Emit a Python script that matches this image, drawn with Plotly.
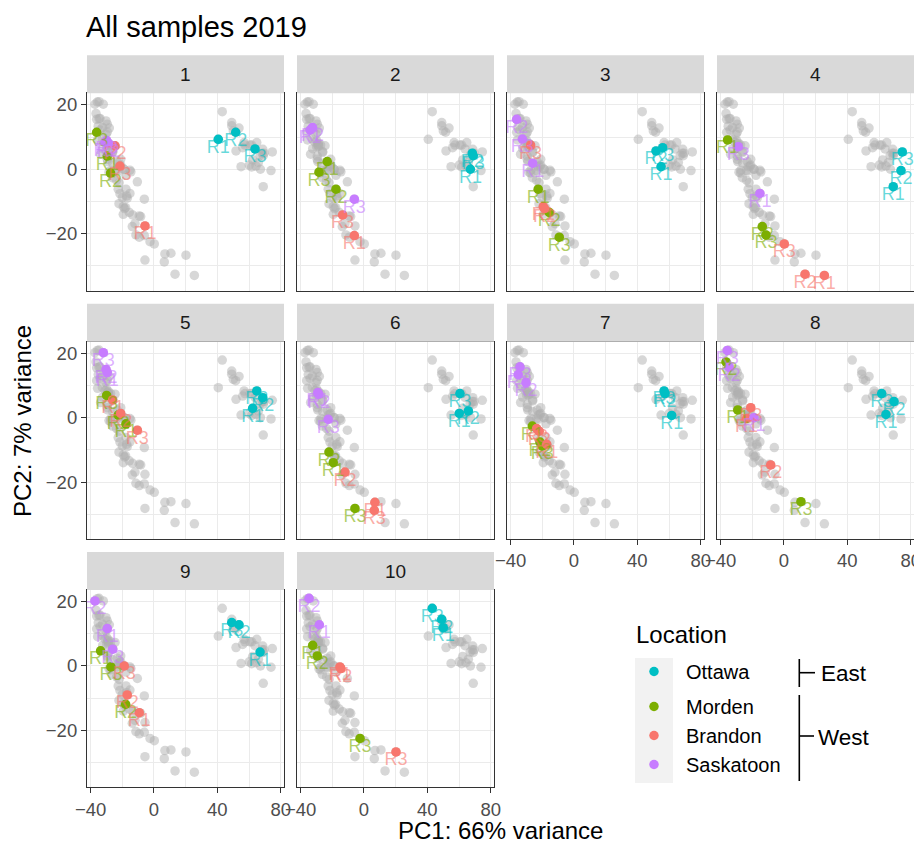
import plotly.graph_objects as go

# ---------------- data ----------------
PANELS = [1, 2, 3, 4, 5, 6, 7, 8, 9, 10]
LOCATIONS = ["Ottawa", "Morden", "Brandon", "Saskatoon"]
LOCATION_REGION = ["East", "West", "West", "West"]
REGIONS = ["East", "West"]
X_TICKS = [-40, 0, 40, 80]
Y_TICKS = [-20, 0, 20]

ottawa_panel = [1, 1, 1, 2, 2, 2, 3, 3, 3, 4, 4, 4, 5, 5, 5, 6, 6, 6, 7, 7, 7, 8, 8, 8, 9, 9, 9, 10, 10, 10]
ottawa_rep = ["R1", "R2", "R3"] * 10
ottawa_pc1 = [40.6, 51.6, 63.8, 67.2, 68.4, 69.0, 55.0, 51.8, 56.0, 69.0, 73.9, 74.7, 62.3, 68.7, 64.9,
              60.2, 65.9, 60.6, 61.7, 57.5, 56.9, 64.4, 69.5, 61.7, 67.0, 53.7, 49.1, 50.1, 49.1, 43.1]
ottawa_pc2 = [9.3, 11.5, 6.3, 0.0, 5.0, 4.2, 0.8, 5.7, 6.7, -5.4, -0.4, 5.4, 2.9, 6.2, 8.3,
              1.3, 2.1, 7.5, 0.7, 7.5, 8.3, 1.0, 5.0, 7.5, 4.3, 12.8, 13.5, 11.9, 14.5, 17.9]

morden_panel = [1, 1, 1, 2, 2, 2, 3, 3, 3, 4, 4, 4, 5, 5, 5, 6, 6, 6, 7, 7, 7, 8, 8, 8, 9, 9, 9, 10, 10, 10]
morden_rep = ["R1", "R2", "R3"] * 10
morden_pc1 = [-29.5, -27.4, -36.2, -23.2, -17.7, -28.4, -22.6, -15.6, -9.3, -35.6, -13.7, -11.4, -17.7, -22.6, -29.9,
              -19.4, -22.1, -5.7, -26.3, -21.5, -20.0, -29.2, -36.6, 10.7, -33.7, -17.9, -27.2, -32.4, -29.5, -2.5]
morden_pc2 = [4.1, -1.2, 11.5, 2.4, -6.2, -0.9, -6.2, -13.4, -21.1, 9.1, -17.8, -20.4, -1.9, 0.8, 6.9,
              -14.0, -10.7, -28.2, -2.6, -7.6, -8.8, 2.4, 17.3, -26.1, 4.7, -11.9, -0.3, 6.4, 3.1, -22.5]

brandon_panel = [1, 1, 1, 2, 2, 3, 3, 3, 4, 4, 4, 5, 5, 5, 6, 6, 6, 7, 7, 7, 8, 8, 8, 9, 9, 9, 10, 10, 10]
brandon_rep = ["R1", "R2", "R3", "R1", "R3", "R1", "R2", "R3", "R1", "R2", "R3", "R1", "R2", "R3",
               "R1", "R2", "R3", "R1", "R2", "R3", "R1", "R2", "R3", "R1", "R2", "R3", "R1", "R2", "R3"]
brandon_pc1 = [-5.7, -24.6, -21.5, -6.1, -13.5, -19.4, -18.6, -27.4, 25.5, 13.3, 0.2, -26.1, -21.0, -10.5,
               6.9, -12.0, 6.5, -17.2, -22.0, -23.6, -23.6, -8.4, -21.0, -9.3, -16.9, -18.8, -15.2, -14.6, 20.2]
brandon_pc2 = [-17.6, 7.3, 1.0, -20.6, -14.2, -11.6, -12.2, 7.5, -33.0, -32.6, -23.2, 5.5, 1.3, -3.9,
               -26.3, -16.9, -28.8, -8.3, -4.2, -3.4, -0.3, -14.7, 3.1, -14.5, -9.0, 0.0, -0.3, -0.8, -26.7]

saskatoon_panel = [1, 1, 1, 2, 2, 2, 3, 3, 3, 4, 4, 5, 5, 5, 6, 6, 6, 7, 7, 7, 8, 8, 8, 9, 9, 9, 10, 10]
saskatoon_rep = ["R1", "R2", "R3", "R1", "R2", "R3", "R1", "R2", "R3", "R1", "R3", "R1", "R2", "R3",
                 "R1", "R2", "R3", "R1", "R2", "R3", "R1", "R2", "R3", "R1", "R2", "R3", "R1", "R2"]
saskatoon_pc1 = [-30.9, -28.8, -29.9, -34.0, -32.5, -6.1, -26.1, -36.2, -32.6, -15.2, -28.9, -29.5, -30.3, -32.0,
                 -29.2, -28.6, -22.6, -35.2, -30.3, -34.1, -19.0, -34.7, -35.8, -29.5, -37.3, -26.1, -28.2, -34.7]
saskatoon_pc2 = [8.4, 8.1, 8.9, 12.2, 13.0, -9.3, 1.9, 15.5, 9.4, -7.5, 7.0, 14.0, 15.0, 20.2,
                 7.8, 7.3, -0.5, 13.4, 10.9, 15.8, 0.0, 15.7, 20.9, 11.6, 20.2, 5.2, 12.8, 21.0]

# ---------------- styling ----------------
OFF = 8                      # page body margin of the browser
FW, FH = 922 - OFF, 843 - OFF
FONT = "Liberation Sans, Arial, Helvetica, sans-serif"
COLORS = {"Ottawa": "#00BFC4", "Morden": "#7CAE00", "Brandon": "#F8766D", "Saskatoon": "#C77CFF"}
TEXT_COLORS = {"Ottawa": "rgba(0,191,196,0.6)", "Morden": "rgba(124,174,0,0.6)",
               "Brandon": "rgba(248,118,109,0.6)", "Saskatoon": "rgba(199,124,255,0.6)"}
DATA = {
    "Ottawa": (ottawa_panel, ottawa_rep, ottawa_pc1, ottawa_pc2),
    "Morden": (morden_panel, morden_rep, morden_pc1, morden_pc2),
    "Brandon": (brandon_panel, brandon_rep, brandon_pc1, brandon_pc2),
    "Saskatoon": (saskatoon_panel, saskatoon_rep, saskatoon_pc1, saskatoon_pc2),
}

COL_LEFT = [87, 297, 507, 717]
ROW_TOP = [93.3, 341.7, 590]
PW, PH, STRIP_H = 197, 197.3, 38
X_RANGE = [-42.3, 82.1]
Y_RANGE = [-37.7, 23.6]

def px(x):
    return (x - OFF) / FW

def py(y):
    return 1 - (y - OFF) / FH

# all samples (grey background)
all_x, all_y = [], []
for loc in LOCATIONS:
    all_x += DATA[loc][2]
    all_y += DATA[loc][3]

fig = go.Figure()
shapes, annotations = [], []
layout_axes = {}

for i, p in enumerate(PANELS):
    r, c = divmod(i, 4)
    k = "" if i == 0 else str(i + 1)
    xa, ya = "x" + k, "y" + k
    left, top = COL_LEFT[c], ROW_TOP[r]
    show_x = (r == 2) or (r == 1 and c >= 2)
    show_y = c == 0

    fig.add_trace(go.Scatter(x=all_x, y=all_y, mode="markers", xaxis=xa, yaxis=ya,
                             marker=dict(size=9.5, color="rgba(175,175,175,0.5)"),
                             showlegend=False, hoverinfo="skip"))
    for li, loc in enumerate(LOCATIONS):
        pan, rep, x, y = DATA[loc]
        idx = [j for j in range(len(pan)) if pan[j] == p]
        fig.add_trace(go.Scatter(x=[x[j] for j in idx], y=[y[j] for j in idx], mode="markers",
                                 xaxis=xa, yaxis=ya, name=loc, legendgroup=LOCATION_REGION[li],
                                 legendrank=li + 1, showlegend=(i == 0),
                                 marker=dict(size=9.5, color=COLORS[loc]),
                                 text=[rep[j] for j in idx]))
    for loc in LOCATIONS:
        pan, rep, x, y = DATA[loc]
        idx = [j for j in range(len(pan)) if pan[j] == p]
        fig.add_trace(go.Scatter(x=[x[j] for j in idx], y=[y[j] for j in idx], mode="text",
                                 xaxis=xa, yaxis=ya, text=[rep[j] for j in idx],
                                 textposition="bottom center",
                                 textfont=dict(size=18, color=TEXT_COLORS[loc], family=FONT),
                                 showlegend=False, hoverinfo="skip"))

    common = dict(showline=True, mirror=True, linecolor="#333333", linewidth=1.2,
                  showgrid=True, gridcolor="#EBEBEB", gridwidth=1.4, zeroline=False,
                  tickfont=dict(size=18.5, color="#4D4D4D", family=FONT), automargin=False,
                  ticklen=5, tickwidth=1.1, tickcolor="#333333")
    layout_axes["xaxis" + k] = dict(common, domain=[px(left), px(left + PW)], range=X_RANGE,
                                    anchor=ya, tickvals=X_TICKS, showticklabels=show_x,
                                    ticks="outside" if show_x else "",
                                    minor=dict(tickvals=[-20, 20, 60], showgrid=True,
                                               gridcolor="#EBEBEB", gridwidth=0.7, ticks=""))
    layout_axes["yaxis" + k] = dict(common, domain=[py(top + PH), py(top)], range=Y_RANGE,
                                    anchor=xa, tickvals=Y_TICKS, showticklabels=show_y,
                                    ticks="outside" if show_y else "",
                                    minor=dict(tickvals=[-30, -10, 10], showgrid=True,
                                               gridcolor="#EBEBEB", gridwidth=0.7, ticks=""))
    shapes.append(dict(type="rect", xref="paper", yref="paper", x0=px(left), x1=px(left + PW),
                       y0=py(top), y1=py(top - STRIP_H), fillcolor="#D9D9D9", line=dict(width=0)))
    annotations.append(dict(text=str(p), xref="paper", yref="paper", x=px(left + PW / 2),
                            y=py(top - STRIP_H / 2), showarrow=False, xanchor="center",
                            yanchor="middle", font=dict(size=19, color="#1A1A1A", family=FONT)))

# axis titles
annotations.append(dict(text="PC1: 66% variance", xref="paper", yref="paper", x=px(500), y=py(830),
                        showarrow=False, xanchor="center", yanchor="middle",
                        font=dict(size=24, color="black", family=FONT)))
annotations.append(dict(text="PC2: 7% variance", xref="paper", yref="paper", x=px(22), y=py(421),
                        showarrow=False, xanchor="center", yanchor="middle", textangle=-90,
                        font=dict(size=24, color="black", family=FONT)))

# legend title, key background and region brackets
annotations.append(dict(text="Location", xref="paper", yref="paper", x=px(634), y=py(634),
                        showarrow=False, xanchor="left", yanchor="middle",
                        font=dict(size=24, color="black", family=FONT)))
shapes.append(dict(type="rect", xref="paper", yref="paper", x0=px(635), x1=px(673), y0=py(783), y1=py(658),
                   fillcolor="#F2F2F2", line=dict(width=0), layer="below"))
for x0, x1, y0, y1 in [(799.3, 799.3, 659, 687), (799.3, 815, 672.7, 672.7),
                       (799.3, 799.3, 695, 781), (799.3, 814, 736, 736)]:
    shapes.append(dict(type="line", xref="paper", yref="paper", x0=px(x0), x1=px(x1),
                       y0=py(y0), y1=py(y1), line=dict(color="black", width=1.6)))
annotations.append(dict(text=REGIONS[0], xref="paper", yref="paper", x=px(819), y=py(673),
                        showarrow=False, xanchor="left", yanchor="middle",
                        font=dict(size=22.5, color="black", family=FONT)))
annotations.append(dict(text=REGIONS[1], xref="paper", yref="paper", x=px(816), y=py(737),
                        showarrow=False, xanchor="left", yanchor="middle",
                        font=dict(size=22.5, color="black", family=FONT)))

fig.update_layout(
    width=FW, height=FH, margin=dict(l=0, r=0, t=0, b=0, autoexpand=False),
    paper_bgcolor="white", plot_bgcolor="white",
    font=dict(family=FONT),
    title=dict(text="All samples 2019", x=px(86), xanchor="left", y=py(27), yanchor="middle",
               font=dict(size=29, color="black", family=FONT)),
    legend=dict(x=px(622), y=py(652), xanchor="left", yanchor="top",
                font=dict(size=20, color="black", family=FONT),
                itemwidth=54, tracegroupgap=6, bgcolor="rgba(0,0,0,0)"),
    shapes=shapes, annotations=annotations,
    **layout_axes,
)

fig.write_html("out.html")
